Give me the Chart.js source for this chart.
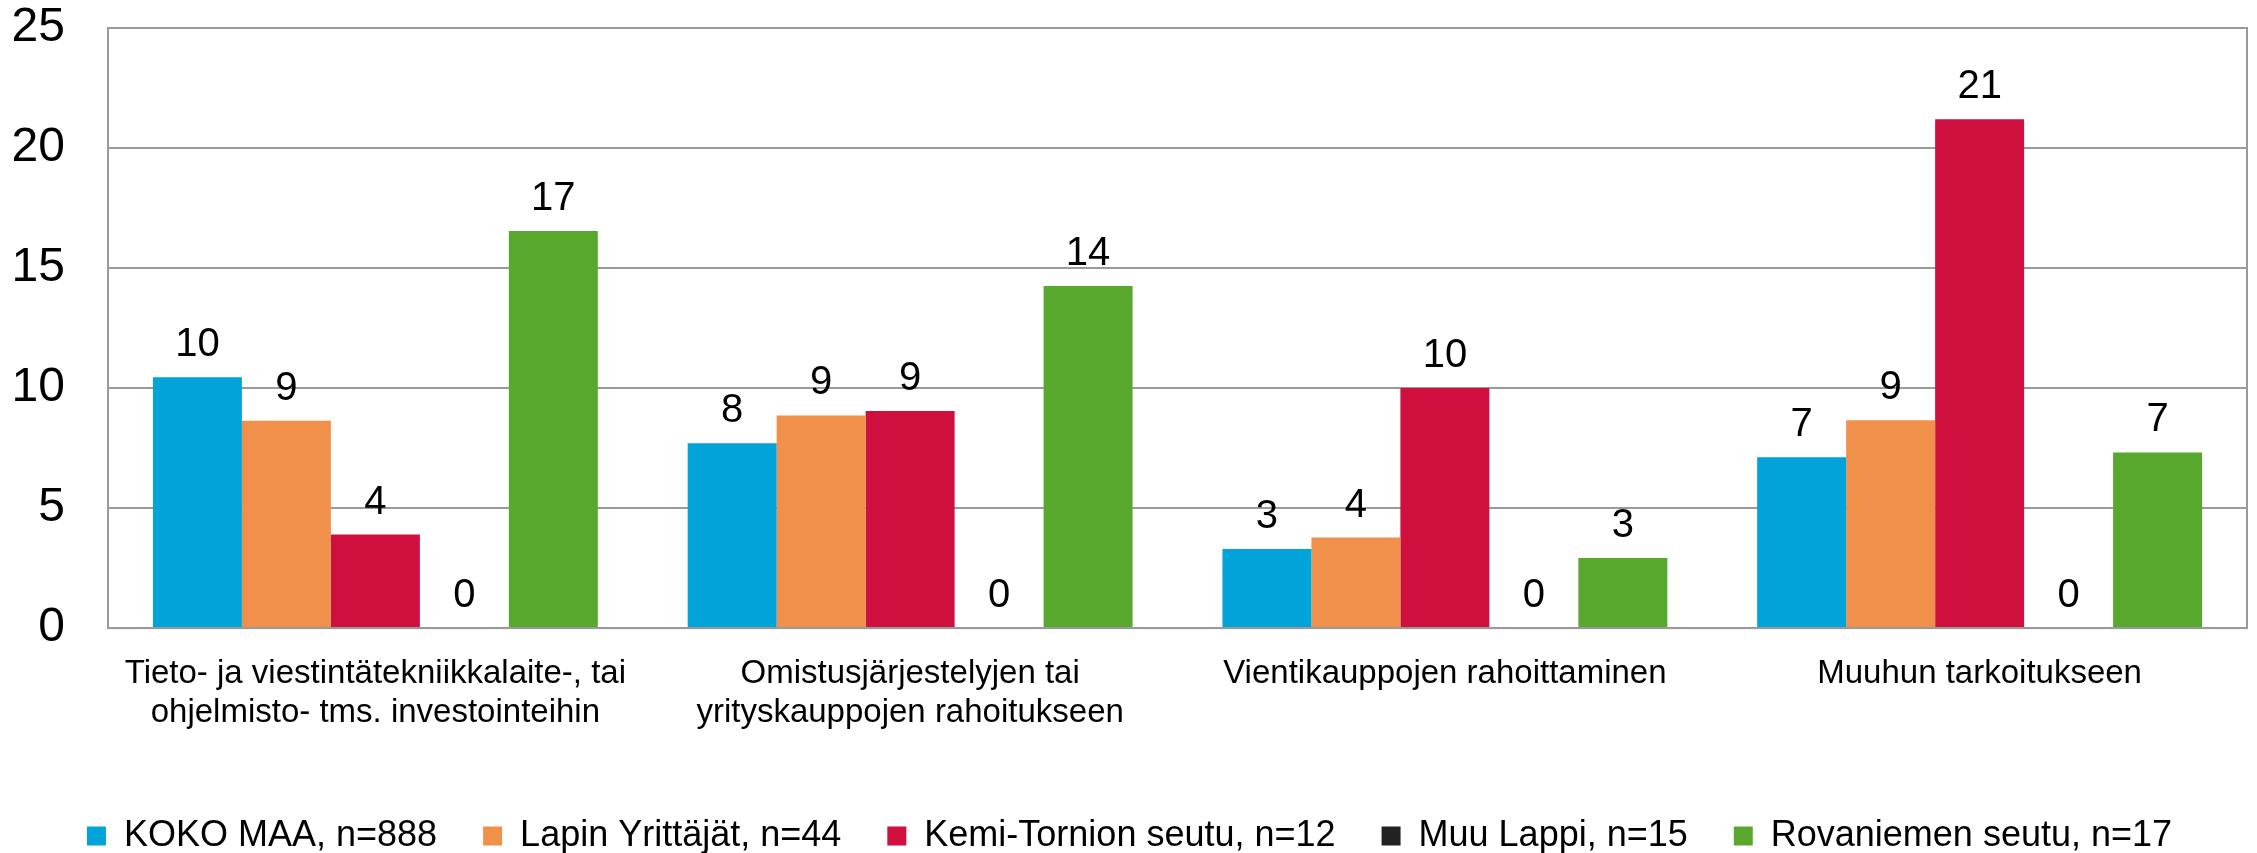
<!DOCTYPE html>
<html>
<head>
<meta charset="utf-8">
<script src="https://cdn.jsdelivr.net/npm/chart.js@4.4.0/dist/chart.umd.min.js"></script>
<style>
  html, body { margin: 0; padding: 0; background: #fff; }
  #wrap { width: 2257px; height: 853px; }
</style>
</head>
<body>
<div id="wrap"><canvas id="chart"></canvas></div>
<script>
const categories = [
  ['Tieto- ja viestintätekniikkalaite-, tai', 'ohjelmisto- tms. investointeihin'],
  ['Omistusjärjestelyjen tai', 'yrityskauppojen rahoitukseen'],
  'Vientikauppojen rahoittaminen',
  'Muuhun tarkoitukseen'
];
const seriesNames = ['KOKO MAA, n=888', 'Lapin Yrittäjät, n=44', 'Kemi-Tornion seutu, n=12', 'Muu Lappi, n=15', 'Rovaniemen seutu, n=17'];
const kokoMaa = [10.45, 7.7, 3.3, 7.12];
const lapinYrittajat = [8.64, 8.86, 3.77, 8.66];
const kemiTornio = [3.9, 9.04, 10.0, 21.2];
const muuLappi = [0, 0, 0, 0];
const rovaniemi = [16.54, 14.25, 2.92, 7.32];
const colors = ['#02A3D9', '#F0904B', '#CF0F3E', '#222222', '#58A82E'];
const yTicks = [0, 5, 10, 15, 20, 25];

const FONT = '"Liberation Sans", Arial, sans-serif';

// numbers above the bars, rounded like in the original
const valueLabels = {
  id: 'valueLabels',
  afterDatasetsDraw(chart) {
    const ctx = chart.ctx;
    ctx.save();
    ctx.font = '40px ' + FONT;
    ctx.fillStyle = '#000';
    ctx.textAlign = 'center';
    ctx.textBaseline = 'alphabetic';
    chart.data.datasets.forEach((ds, i) => {
      chart.getDatasetMeta(i).data.forEach((bar, j) => {
        ctx.fillText(String(Math.round(ds.data[j])), bar.x, bar.y - 21);
      });
    });
    ctx.restore();
  }
};

// grey box round the plot area
const frame = {
  id: 'frame',
  beforeDatasetsDraw(chart) {
    const a = chart.chartArea, ctx = chart.ctx;
    ctx.save();
    ctx.strokeStyle = '#9A9A9A';
    ctx.lineWidth = 2;
    ctx.strokeRect(a.left, a.top, a.right - a.left, a.bottom - a.top);
    ctx.restore();
  }
};

const allSeries = [kokoMaa, lapinYrittajat, kemiTornio, muuLappi, rovaniemi];

new Chart(document.getElementById('chart'), {
  type: 'bar',
  data: {
    labels: categories,
    datasets: allSeries.map((d, i) => ({
      label: seriesNames[i],
      data: d,
      backgroundColor: colors[i],
      borderWidth: 0,
      categoryPercentage: 0.832,
      barPercentage: 1.0
    }))
  },
  options: {
    responsive: true,
    maintainAspectRatio: false,
    animation: false,
    layout: { padding: { left: 12, right: 10, top: 0, bottom: -11 } },
    scales: {
      x: {
        grid: { display: false },
        border: { color: '#9A9A9A', width: 2 },
        ticks: {
          color: '#000',
          font: { family: FONT, size: 33, lineHeight: 1.18 },
          padding: 18,
          maxRotation: 0,
          autoSkip: false
        },
        afterFit(scale) {
          scale.paddingLeft = 0;
          scale.paddingRight = 0;
          scale.height += 22;
        }
      },
      y: {
        min: 0,
        max: 25,
        afterBuildTicks(scale) { scale.ticks = yTicks.map(v => ({ value: v })); },
        grid: { color: '#9A9A9A', lineWidth: 2, drawTicks: false },
        border: { color: '#9A9A9A', width: 2 },
        ticks: {
          color: '#000',
          font: { family: FONT, size: 48 },
          padding: 43
        },
        afterFit(scale) {
          scale.width = 96;
          scale.paddingTop = 28;
          scale.paddingBottom = 28;
        }
      }
    },
    plugins: {
      legend: {
        position: 'bottom',
        labels: {
          color: '#000',
          font: { family: FONT, size: 36 },
          boxWidth: 19,
          boxHeight: 19,
          padding: 46
        }
      },
      tooltip: { enabled: false }
    }
  },
  plugins: [valueLabels, frame]
});
</script>
</body>
</html>
